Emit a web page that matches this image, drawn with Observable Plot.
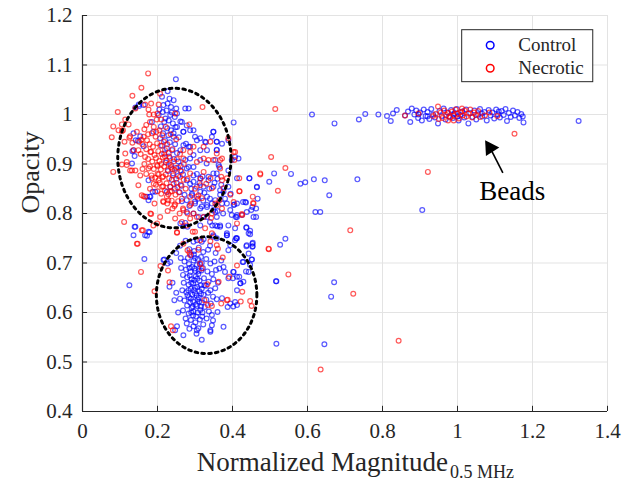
<!DOCTYPE html>
<html>
<head>
<meta charset="utf-8">
<script src="https://cdn.jsdelivr.net/npm/d3@7"></script>
<script src="https://cdn.jsdelivr.net/npm/@observablehq/plot@0.6"></script>
<style>
  html, body { margin: 0; padding: 0; background: #fff; }
  #chart { width: 633px; height: 481px; overflow: hidden; }
</style>
</head>
<body>
<div id="chart"></div>
<script>
// ---------------- DATA ----------------
const seriesNames = ["Control", "Necrotic"];
const seriesColors = ["#0000ff", "#ff0000"];
const xTicks = [0, 0.2, 0.4, 0.6, 0.8, 1, 1.2, 1.4];
const yTicks = [0.4, 0.5, 0.6, 0.7, 0.8, 0.9, 1, 1.1, 1.2];
const xLabelMain = "Normalized Magnitude";
const xLabelSub = "0.5 MHz";
const yLabel = "Opacity";
const annotationText = "Beads";

// Control (blue) points [magnitude, opacity]
const control = [
  [0.612,1.0],[0.403,0.984],[0.672,0.982],[0.737,0.99],[0.754,1.001],[0.789,1.0],
  [0.511,0.881],[0.556,0.88],[0.445,0.871],[0.498,0.864],[0.581,0.86],[0.594,0.863],[0.617,0.869],[0.646,0.867],[0.733,0.869],[0.465,0.853],[0.658,0.837],[0.467,0.83],[0.436,0.822],[0.453,0.813],[0.45,0.807],[0.405,0.818],[0.463,0.793],[0.621,0.803],[0.634,0.803],[0.409,0.793],[0.437,0.771],[0.447,0.765],[0.447,0.758],[0.541,0.749],[0.527,0.737],[0.41,0.75],[0.453,0.739],[0.453,0.733],[0.437,0.734],[0.451,0.707],[0.427,0.702],[0.436,0.683],[0.402,0.682],[0.412,0.672],[0.517,0.663],[0.671,0.661],[0.421,0.659],[0.663,0.632],[0.402,0.612],[0.517,0.537],[0.645,0.536],
  [1.323,0.987],[0.906,0.807],
  [0.812,0.997],[0.822,0.987],[0.828,1.002],[0.838,1.009],[0.86,0.998],[0.868,1.006],[0.874,0.985],[0.878,1.012],[0.885,1.0],[0.89,1.008],[0.895,0.993],[0.9,1.004],[0.905,0.988],[0.91,1.01],[0.915,0.997],[0.92,1.005],[0.925,0.991],[0.93,1.011],[0.935,1.0],[0.94,0.994],[0.948,0.982],[0.952,1.007],[0.958,0.997],[0.963,1.012],[0.968,0.99],[0.973,1.004],[0.978,0.996],[0.983,1.009],[0.988,0.993],[0.993,1.002],[0.998,1.011],[1.003,0.988],[1.008,0.999],[1.013,1.006],[1.018,0.994],[1.023,1.01],[1.029,0.982],[1.034,1.003],[1.04,0.995],[1.045,1.008],[1.05,0.99],[1.055,1.0],[1.06,1.011],[1.066,0.996],[1.072,1.005],[1.078,0.988],[1.083,1.009],[1.088,0.998],[1.093,1.004],[1.098,0.992],[1.103,1.01],[1.108,1.0],[1.113,0.994],[1.118,1.007],[1.123,0.999],[1.128,1.011],[1.132,0.987],[1.137,1.003],[1.142,0.995],[1.148,1.008],[1.153,0.998],[1.16,1.005],[1.165,0.993],[1.17,1.001],[1.176,0.984],[1.174,0.996],[0.896,1.0],[0.92,0.996],[0.99,1.0],[1.0,0.996],[1.065,1.002],[1.11,1.006],
  [0.249,1.071],[0.227,1.047],[0.212,1.036],[0.232,1.032],[0.243,1.029],[0.227,1.022],[0.15,1.02],[0.163,1.019],[0.216,1.019],[0.236,1.015],[0.25,1.012],[0.274,1.012],[0.283,1.012],[0.203,0.999],[0.221,0.992],[0.234,0.999],[0.252,1.002],[0.261,0.986],[0.278,0.978],[0.269,0.965],[0.257,0.954],[0.296,0.968],[0.305,0.948],[0.329,0.944],[0.349,0.965],[0.358,0.945],[0.358,0.929],[0.276,0.941],[0.287,0.935],[0.136,0.962],[0.142,0.948],[0.154,0.956],[0.133,0.926],[0.139,0.916],[0.185,0.985],[0.189,0.965],[0.207,0.952],
  [0.261,0.928],[0.274,0.908],[0.283,0.894],[0.261,0.887],[0.296,0.894],[0.314,0.908],[0.331,0.901],[0.354,0.908],[0.365,0.894],[0.349,0.881],[0.336,0.874],[0.349,0.854],[0.367,0.847],[0.376,0.844],[0.389,0.854],
  [0.278,0.867],[0.296,0.864],[0.305,0.854],[0.314,0.844],[0.292,0.84],[0.278,0.827],[0.3,0.82],[0.314,0.81],[0.332,0.813],[0.345,0.82],[0.354,0.803],[0.332,0.793],[0.31,0.793],[0.296,0.8],[0.278,0.803],
  [0.261,0.78],[0.274,0.781],[0.354,0.776],[0.367,0.773],[0.314,0.776],
  [0.445,0.871],[0.465,0.854],[0.434,0.823],[0.438,0.803],[0.403,0.817],[0.412,0.797],[0.456,0.793],[0.407,0.77],[0.443,0.76],[0.463,0.81],[0.385,0.76],
  [0.139,0.773],[0.136,0.756],[0.176,0.763],[0.167,0.756],[0.194,0.844],[0.179,0.834],[0.225,0.844],[0.234,0.854],
  [0.151,1.017],[0.141,1.014],[0.148,0.947],[0.163,0.936],[0.136,0.928],
  [0.132,0.901],[0.176,0.867],[0.187,0.844],[0.172,0.834],[0.176,0.827],[0.181,0.834],[0.141,0.773],[0.172,0.755],
  [0.287,0.911],[0.278,0.891],[0.296,0.877],[0.314,0.871],[0.287,0.86],[0.323,0.854],[0.336,0.867],[0.358,0.881],[0.363,0.898],[0.389,0.887],[0.398,0.908],[0.412,0.871],[0.416,0.911],[0.332,0.834],[0.354,0.827],[0.367,0.838],[0.318,0.814],[0.332,0.817],[0.3,0.824],[0.292,0.837],[0.394,0.807],[0.398,0.797],[0.412,0.793],[0.389,0.776],[0.367,0.776],[0.358,0.793],[0.349,0.807],[0.425,0.797],[0.428,0.823],[0.412,0.82],[0.34,0.783],[0.323,0.793],[0.385,0.756],[0.407,0.746],[0.349,0.753],
  [0.265,0.985],[0.252,0.975],[0.269,0.965],[0.243,0.962],[0.287,0.968],[0.3,0.955],[0.314,0.952],[0.327,0.945],[0.349,0.965],[0.345,0.955],[0.358,0.945],[0.372,0.941],[0.332,0.928],[0.358,0.928],[0.389,0.948],[0.407,0.914],[0.314,0.928],[0.296,0.918],[0.283,0.935],[0.269,0.938],
  [0.205,1.01],[0.214,1.005],[0.224,1.008],[0.238,1.004],[0.246,0.995],[0.218,0.985],[0.23,0.988],[0.241,0.982],[0.209,0.976],[0.226,0.972],[0.236,0.968],[0.248,0.974],[0.215,0.962],[0.229,0.958],[0.243,0.955],[0.22,0.948],[0.233,0.944],[0.247,0.94],[0.212,0.937],[0.225,0.932],[0.239,0.928],[0.252,0.922],[0.218,0.921],[0.231,0.915],[0.244,0.91],[0.256,0.905],[0.222,0.903],[0.236,0.898],[0.249,0.892],[0.262,0.896],[0.228,0.886],[0.242,0.881],[0.255,0.876],[0.268,0.879],[0.238,0.868],[0.251,0.862],[0.264,0.856],[0.246,0.85],[0.259,0.843],[0.272,0.838],[0.265,0.825],[0.285,0.815],[0.29,0.85],[0.305,0.88],[0.32,0.875],[0.312,0.862],[0.325,0.842],[0.338,0.85],[0.34,0.83],[0.322,0.826],[0.308,0.83],[0.352,0.862],[0.36,0.87],[0.37,0.858],[0.38,0.83],[0.372,0.82],[0.385,0.82],[0.395,0.84],[0.36,0.805],[0.375,0.8],
  [0.179,0.762],[0.165,0.708],[0.125,0.655],[0.232,0.652],[0.218,0.707],[0.234,0.702],[0.269,0.774],[0.28,0.773],[0.346,0.776],[0.36,0.774],[0.349,0.756],[0.385,0.756],[0.41,0.75],[0.437,0.772],[0.438,0.736],[0.454,0.741],[0.454,0.734],[0.452,0.707],[0.429,0.702],[0.403,0.682],[0.401,0.669],[0.421,0.659],[0.516,0.663],[0.318,0.545],[0.341,0.564],[0.376,0.571],[0.348,0.584],[0.309,0.568],[0.305,0.564],[0.252,0.572],
  [0.216,0.706],[0.227,0.699],[0.247,0.564],[0.269,0.554],[0.345,0.574],[0.341,0.561],
  [0.296,0.743],[0.305,0.746],[0.318,0.743],[0.323,0.748],[0.358,0.75],[0.389,0.726],[0.394,0.736],[0.412,0.75],
  [0.443,0.719],[0.447,0.696],[0.443,0.682],[0.429,0.662],[0.418,0.672],[0.389,0.669],[0.376,0.692],[0.365,0.689],[0.412,0.645],[0.407,0.621],[0.387,0.611],[0.372,0.629],[0.358,0.627],[0.36,0.601],[0.345,0.595],[0.394,0.618],[0.412,0.615],
  [0.285,0.728],[0.298,0.724],[0.31,0.731],[0.322,0.722],[0.335,0.727],[0.29,0.716],[0.316,0.712],[0.33,0.708],
  [0.272,0.703],[0.284,0.698],[0.296,0.705],[0.305,0.696],[0.318,0.7],[0.341,0.699],[0.352,0.703],[0.263,0.69],
  [0.276,0.687],[0.288,0.682],[0.299,0.689],[0.31,0.684],[0.321,0.69],[0.333,0.683],[0.345,0.678],[0.356,0.686],[0.268,0.676],
  [0.279,0.671],[0.291,0.667],[0.302,0.673],[0.312,0.664],[0.324,0.669],[0.336,0.662],[0.349,0.667],[0.361,0.66],[0.27,0.66],[0.283,0.656],[0.295,0.659],
  [0.306,0.652],[0.318,0.648],[0.329,0.654],[0.341,0.645],[0.354,0.649],[0.266,0.645],[0.277,0.641],[0.289,0.648],[0.3,0.639],[0.312,0.643],[0.323,0.636],[0.335,0.64],
  [0.348,0.632],[0.26,0.628],[0.272,0.624],[0.284,0.631],[0.295,0.622],[0.307,0.627],[0.318,0.62],[0.33,0.626],[0.342,0.618],[0.279,0.614],[0.291,0.609],[0.302,0.616],
  [0.314,0.605],[0.326,0.611],[0.337,0.602],[0.268,0.604],[0.283,0.598],[0.295,0.594],[0.307,0.6],[0.319,0.592],[0.331,0.588],[0.289,0.585],[0.301,0.58],[0.313,0.586],
  [0.275,0.588],[0.296,0.572],[0.322,0.576],[0.285,0.567],[0.304,0.557],[0.278,0.578],
  [0.3,0.65],[0.293,0.636],[0.31,0.63],[0.305,0.613],[0.296,0.602],[0.287,0.62],[0.315,0.655],[0.298,0.665],[0.286,0.675],[0.309,0.678],[0.292,0.692],[0.3,0.71],[0.281,0.71],[0.317,0.685],[0.325,0.655],[0.32,0.6],
  [0.26,0.735],[0.275,0.745],[0.25,0.72],[0.34,0.735],[0.355,0.72],[0.37,0.705],[0.38,0.682],[0.262,0.71],
  [0.24,0.66],[0.245,0.625],[0.25,0.64],[0.255,0.6],
  [0.297,0.645],[0.304,0.634],[0.311,0.622],[0.289,0.628],[0.282,0.645],[0.294,0.612],[0.316,0.638],[0.306,0.668],[0.29,0.66],[0.301,0.684],[0.285,0.69],[0.313,0.697],[0.297,0.717],[0.308,0.708],[0.29,0.6],[0.303,0.592],[0.316,0.612],[0.28,0.635]
];

// Necrotic (red) points [magnitude, opacity]
const necrotic = [
  [0.514,1.011],[0.503,0.914],[0.541,0.892],[0.474,0.881],[0.521,0.846],[0.418,0.845],[0.455,0.821],[0.426,0.797],[0.714,0.766],[0.497,0.728],[0.412,0.695],[0.549,0.677],[0.426,0.642],[0.722,0.638],[0.422,0.622],[0.447,0.623],[0.451,0.613],[0.843,0.543],[0.635,0.485],[1.152,0.961],[0.921,0.884],
  [0.86,0.998],[0.896,1.002],[0.948,1.016],[0.935,0.997],[0.955,1.004],[0.96,0.993],[0.965,1.008],[0.97,0.999],[0.975,1.003],[0.98,0.994],[0.985,1.006],[0.99,0.998],[0.995,1.01],[1.0,1.002],[1.004,0.992],[1.009,1.005],[1.014,0.998],[1.019,1.008],[1.024,0.996],[1.029,1.002],[1.034,1.01],[1.039,0.994],[1.044,1.004],[1.049,0.999],[1.055,1.007],[1.06,0.995],[0.942,1.001],[0.95,0.991],[1.073,0.998],[1.085,1.004],[1.106,0.997],[0.975,0.988],[1.012,1.012],[0.99,0.988],
  [0.175,1.083],[0.157,1.054],[0.207,1.042],[0.133,1.038],[0.183,1.022],[0.141,1.012],[0.176,1.01],[0.094,1.005],[0.2,1.002],[0.32,1.015],[0.114,0.99],[0.082,0.976],[0.17,0.979],[0.105,0.966],[0.078,0.954],[0.125,0.953],[0.145,0.965],[0.157,0.949],[0.172,0.948],[0.197,0.965],[0.136,0.928],[0.114,0.921],[0.118,0.904],[0.082,0.884],[0.132,0.887],[0.154,0.877],[0.149,0.857],[0.163,0.835],[0.192,0.82],[0.111,0.783],[0.161,0.766],[0.183,0.799],[0.207,0.793],[0.229,0.827],[0.247,0.79],[0.252,0.761],[0.259,0.8],[0.287,0.834],[0.305,0.834],[0.3,0.763],[0.323,0.793],[0.327,0.77],[0.343,0.791],[0.354,0.82],[0.365,0.827],[0.37,0.874],[0.367,0.908],[0.385,0.871],[0.407,0.924],[0.405,0.908],[0.418,0.871],[0.425,0.799],[0.456,0.82],[0.454,0.834],[0.474,0.879],[0.358,0.921],[0.336,0.908],[0.323,0.884],[0.314,0.857],[0.287,0.881],[0.296,0.935],[0.269,0.911],
  [0.167,1.02],[0.203,1.02],[0.105,0.98],[0.123,0.98],[0.108,0.968],[0.096,0.968],[0.127,0.956],[0.112,0.945],[0.133,0.943],[0.151,0.945],[0.163,0.955],[0.149,0.928],[0.181,0.924],[0.167,0.914],
  [0.105,0.899],[0.118,0.898],[0.127,0.887],[0.141,0.887],[0.176,0.891],[0.199,0.898],[0.185,0.871],[0.203,0.867],[0.212,0.854],[0.158,0.837],[0.167,0.834],[0.181,0.8],[0.189,0.776],[0.199,0.78],[0.158,0.766],[0.145,0.739],[0.216,0.823],[0.225,0.834],[0.234,0.844],
  [0.305,0.904],[0.323,0.911],[0.349,0.908],[0.367,0.891],[0.341,0.871],[0.345,0.851],[0.318,0.831],[0.287,0.817],[0.269,0.807],[0.296,0.8],[0.305,0.793],[0.287,0.79],[0.265,0.783],[0.278,0.776],[0.372,0.867],[0.376,0.851],[0.419,0.845],[0.394,0.838],[0.403,0.823],[0.372,0.81],[0.345,0.8],[0.358,0.817],[0.309,0.837],[0.345,0.76],[0.412,0.78],
  [0.285,0.98],[0.247,1.002],[0.269,0.928],[0.287,0.924],[0.323,0.935],[0.341,0.945],[0.389,0.952],[0.403,0.924],[0.372,0.911],
  [0.18,0.985],[0.19,0.975],[0.198,0.99],[0.185,0.962],[0.195,0.955],[0.205,0.968],[0.213,0.958],[0.179,0.94],[0.188,0.935],[0.199,0.942],[0.208,0.937],[0.217,0.945],[0.226,0.94],[0.183,0.925],[0.192,0.918],[0.202,0.926],[0.211,0.92],[0.22,0.928],[0.23,0.922],[0.24,0.93],[0.175,0.91],[0.186,0.905],[0.196,0.912],[0.205,0.906],[0.214,0.913],[0.224,0.907],[0.233,0.912],[0.243,0.905],[0.252,0.91],[0.18,0.895],[0.19,0.89],[0.2,0.896],[0.209,0.889],[0.218,0.895],[0.227,0.888],[0.236,0.894],[0.246,0.888],[0.255,0.893],[0.264,0.885],[0.184,0.877],[0.194,0.872],[0.203,0.879],[0.213,0.873],[0.222,0.879],[0.231,0.871],[0.241,0.877],[0.25,0.87],[0.26,0.874],[0.27,0.868],[0.196,0.858],[0.206,0.862],[0.215,0.855],[0.224,0.861],[0.234,0.854],[0.243,0.86],[0.253,0.853],[0.262,0.858],[0.2,0.845],[0.21,0.84],[0.22,0.846],[0.229,0.839],[0.238,0.845],[0.248,0.838],[0.257,0.843],[0.215,0.825],[0.226,0.82],[0.238,0.826],[0.247,0.818],[0.24,0.81],[0.227,0.805],[0.165,0.9],[0.17,0.88],[0.16,0.89],[0.155,0.92],[0.17,0.93],[0.16,0.94],[0.175,0.96],[0.165,0.97],[0.2,0.88],[0.21,0.9],[0.22,0.915],[0.23,0.9],[0.24,0.89],[0.215,0.875],[0.19,0.86],[0.18,0.85],[0.265,0.83],[0.275,0.85],[0.28,0.87],[0.27,0.9],[0.26,0.92],[0.25,0.95],[0.235,0.96],[0.222,0.975],[0.21,0.99],[0.19,1.0],[0.178,1.0],[0.245,0.815],[0.255,0.825],[0.268,0.81],[0.28,0.8],[0.29,0.82],[0.3,0.85],[0.315,0.87],[0.33,0.86],
  [0.147,0.739],[0.156,0.682],[0.192,0.643],[0.208,0.694],[0.232,0.661],[0.252,0.762],[0.294,0.763],[0.28,0.726],[0.287,0.716],[0.309,0.727],[0.341,0.744],[0.358,0.736],[0.361,0.729],[0.374,0.711],[0.496,0.729],[0.314,0.699],[0.391,0.672],[0.385,0.625],[0.333,0.657],[0.325,0.625],[0.334,0.615],[0.345,0.613],[0.236,0.572],[0.241,0.564],[0.228,0.685],
  [0.318,0.689],[0.363,0.662],[0.37,0.618],[0.387,0.626],[0.285,0.721],[0.269,0.739],[0.314,0.746]
];

// Annotation shapes (dotted ellipses around the two clusters): centre and radii in data units
const ellipseCentersX = [0.245, 0.331];
const ellipseCentersY = [0.912, 0.635];
const ellipseRadiiX = [0.151, 0.134];
const ellipseRadiiY = [0.141, 0.118];

// Arrow pointing at the beads (tail -> head) and label anchor
const arrowTail = [1.121, 0.882];
const arrowHead = [1.087, 0.9325];
const beadsLabelPos = [1.146, 0.827];

// Legend box placement (data units)
const legendBox = {x1: 1.0125, x2: 1.362, y1: 1.0653, y2: 1.1703};
const legendMarkerX = 1.0872;
const legendTextX = 1.162;
const legendRowsY = [1.14, 1.0935];

// ---------------- BUILD ----------------
const points = [
  ...control.map(([x, y]) => ({x, y, s: seriesNames[0]})),
  ...necrotic.map(([x, y]) => ({x, y, s: seriesNames[1]}))
];

const ellipsePts = [];
ellipseCentersX.forEach((cx, k) => {
  for (let a = 0; a <= 360; a += 2) {
    const t = a * Math.PI / 180;
    ellipsePts.push({k, x: cx + ellipseRadiiX[k] * Math.cos(t), y: ellipseCentersY[k] + ellipseRadiiY[k] * Math.sin(t)});
  }
});

const legendRows = seriesNames.map((n, i) => ({n, c: seriesColors[i], y: legendRowsY[i]}));
const serif = "'Liberation Serif', 'Times New Roman', serif";

const chart = Plot.plot({
  width: 633,
  height: 481,
  marginLeft: 82,
  marginRight: 26,
  marginTop: 15,
  marginBottom: 70,
  style: {fontFamily: serif, fontSize: "21px", background: "#fff", color: "#262626"},
  x: {domain: [0, 1.4]},
  y: {domain: [0.4, 1.2]},
  marks: [
    Plot.gridX(xTicks, {stroke: "#e3e3e3", strokeOpacity: 1, strokeWidth: 1}),
    Plot.gridY(yTicks, {stroke: "#e3e3e3", strokeOpacity: 1, strokeWidth: 1}),
    Plot.axisX(xTicks, {tickSize: 0, tickPadding: 12, tickFormat: d3.format("~g"), fontSize: 21, fill: "#262626", label: null}),
    Plot.axisY(yTicks, {tickSize: 0, tickPadding: 10, tickFormat: d3.format("~g"), fontSize: 21, fill: "#262626", label: null}),
    Plot.ruleX(xTicks, {y1: 0.4, y2: 0.4105, stroke: "#262626", strokeWidth: 1}),
    Plot.ruleY(yTicks, {x1: 0, x2: 0.0135, stroke: "#262626", strokeWidth: 1}),
    Plot.ruleX([0], {stroke: "#262626", strokeWidth: 1.2}),
    Plot.ruleY([0.4], {stroke: "#262626", strokeWidth: 1.2}),
    Plot.dot(points.filter(d => d.s === seriesNames[0]), {x: "x", y: "y", r: 2.4, stroke: seriesColors[0], strokeOpacity: 0.65, strokeWidth: 1.2, fill: "none"}),
    Plot.dot(points.filter(d => d.s === seriesNames[1]), {x: "x", y: "y", r: 2.4, stroke: seriesColors[1], strokeOpacity: 0.65, strokeWidth: 1.2, fill: "none"}),
    Plot.line(ellipsePts, {x: "x", y: "y", z: "k", stroke: "#000", strokeWidth: 3, strokeDasharray: "2.6,4.2", curve: "linear"}),
    Plot.link([0], {x1: () => arrowTail[0], y1: () => arrowTail[1], x2: () => arrowHead[0], y2: () => arrowHead[1], stroke: "#000", strokeWidth: 1.6}),
    Plot.dot([0], {x: () => arrowHead[0], y: () => arrowHead[1], symbol: "triangle", r: 5.9, fill: "#000", stroke: "none", rotate: -33}),
    Plot.text([annotationText], {x: () => beadsLabelPos[0], y: () => beadsLabelPos[1], text: d => d, fontSize: 27, textAnchor: "middle", lineAnchor: "bottom", fill: "#000"}),
    Plot.text([yLabel], {frameAnchor: "left", dx: -52, rotate: -90, text: d => d, fontSize: 26, fill: "#262626"}),
    Plot.text([xLabelMain], {frameAnchor: "bottom", textAnchor: "end", lineAnchor: "bottom", dx: 103, dy: 59, text: d => d, fontSize: 27, fill: "#262626"}),
    Plot.text([xLabelSub], {frameAnchor: "bottom", textAnchor: "start", lineAnchor: "bottom", dx: 105, dy: 66, text: d => d, fontSize: 18, fill: "#262626"}),
    Plot.rect([legendBox], {x1: "x1", x2: "x2", y1: "y1", y2: "y2", fill: "#fff", stroke: "#262626", strokeWidth: 1}),
    Plot.dot(legendRows, {x: () => legendMarkerX, y: "y", r: 3.8, stroke: "c", strokeWidth: 1.5, fill: "none"}),
    Plot.text(legendRows, {x: () => legendTextX, y: "y", text: "n", textAnchor: "start", fontSize: 19, fill: "#262626"})
  ]
});

document.getElementById("chart").appendChild(chart);
</script>
</body>
</html>
